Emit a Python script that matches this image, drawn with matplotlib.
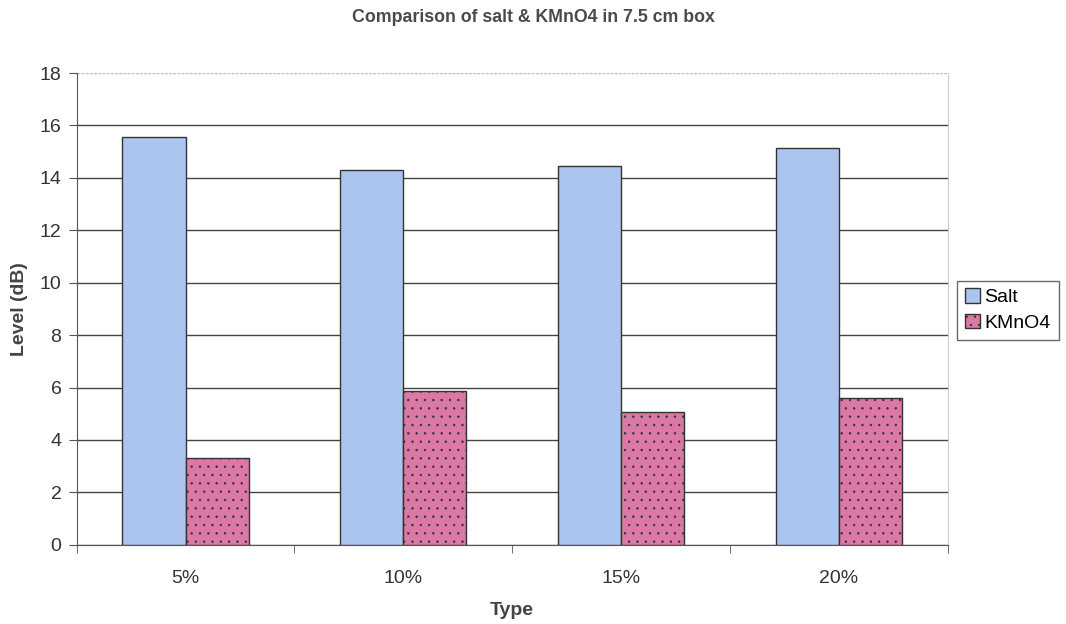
import numpy as np
import matplotlib
matplotlib.use("Agg")
import matplotlib.pyplot as plt

# 数据
categories = ["5%", "10%", "15%", "20%"]
salt = [15.55, 14.3, 14.45, 15.15]
kmno4 = [3.3, 5.85, 5.05, 5.6]

plt.rcParams['font.family'] = ['Liberation Sans', 'DejaVu Sans']
plt.rcParams['hatch.linewidth'] = 0.5
plt.rcParams['hatch.color'] = '#9a4a72'

fig = plt.figure(figsize=(10.66, 6.24), dpi=100)
ax = fig.add_axes([0.072, 0.127, 0.817, 0.756])

x = np.arange(len(categories))
w = 0.29
ax.bar(x - w / 2, salt, w, color='#abc5ef', edgecolor='#333333', linewidth=1.0, label='Salt', zorder=3)
ax.bar(x + w / 2, kmno4, w, color='#db78a6', edgecolor='#333333', linewidth=1.0,
       hatch='..', label='KMnO4', zorder=3)

ax.set_xlim(-0.5, len(categories) - 0.5)
ax.set_ylim(0, 18)
ax.set_yticks(range(0, 19, 2))
ax.yaxis.grid(True, color='#444444', linewidth=1.0, zorder=0)
ax.set_axisbelow(True)
# 18那条线是浅灰虚线
ax.get_ygridlines()[-1].set_visible(False)
ax.axhline(18, color='#bbbbbb', linewidth=1.0, linestyle=(0, (2, 1)), zorder=1)

# x轴刻度在类别之间
ax.set_xticks(x)
ax.set_xticklabels(categories)
ax.tick_params(axis='x', length=0, labelsize=14, pad=18, colors='#333333')
ax.set_xticks(np.arange(-0.5, len(categories)), minor=True)
ax.tick_params(axis='x', which='minor', length=6, color='#555555')
ax.tick_params(axis='y', length=6, labelsize=14, pad=5, colors='#333333', color='#555555')

for s in ['left', 'bottom']:
    ax.spines[s].set_color('#555555')
ax.spines['top'].set_visible(False)
ax.spines['right'].set_color('#cccccc')

ax.set_xlabel('Type', fontsize=14, fontweight='bold', color='#444444', labelpad=11)
ax.set_ylabel('Level (dB)', fontsize=14, fontweight='bold', color='#444444', labelpad=8)
fig.suptitle('Comparison of salt & KMnO4 in 7.5 cm box', x=0.5, y=0.985,
             fontsize=12.8, fontweight='bold', color='#4a4a4a')

leg = fig.legend(loc='center left', bbox_to_anchor=(0.898, 0.503), fontsize=14,
                 frameon=True, fancybox=False, edgecolor='#444444',
                 handlelength=0.75, handleheight=0.75, handletextpad=0.25,
                 borderpad=0.4, labelspacing=0.4, borderaxespad=0.0)
leg.get_frame().set_linewidth(1.0)

fig.savefig('out.png', dpi=100, facecolor='white')
